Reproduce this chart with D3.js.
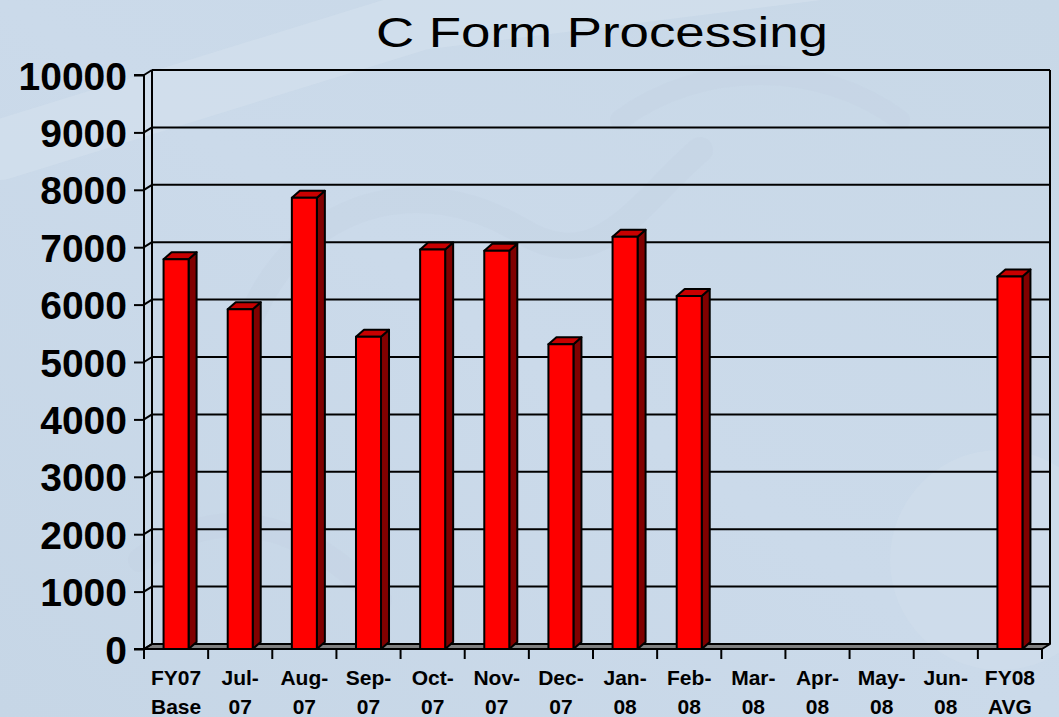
<!DOCTYPE html>
<html><head><meta charset="utf-8">
<script src="https://cdn.jsdelivr.net/npm/d3@7"></script>
<style>html,body{margin:0;padding:0;background:#cad9e8;}svg{display:block;}</style>
</head><body>
<svg id="c" width="1059" height="717"></svg>
<script>
const categories = [["FY07","Base"],["Jul-","07"],["Aug-","07"],["Sep-","07"],["Oct-","07"],["Nov-","07"],["Dec-","07"],["Jan-","08"],["Feb-","08"],["Mar-","08"],["Apr-","08"],["May-","08"],["Jun-","08"],["FY08","AVG"]];
const values = [6790, 5920, 7860, 5440, 6960, 6940, 5310, 7180, 6150, null, null, null, null, 6490];
const yTicks = [0,1000,2000,3000,4000,5000,6000,7000,8000,9000,10000];
const title = "C Form Processing";

const svg = d3.select("#c");
const W = 1059, H = 717;
const font = "'Liberation Sans', Arial, sans-serif";

// background
const defs = svg.append("defs");
const g0 = defs.append("linearGradient").attr("id","bg").attr("x1","0").attr("y1","1").attr("x2","1").attr("y2","0");
g0.append("stop").attr("offset","0").attr("stop-color","#c6d6e6");
g0.append("stop").attr("offset","0.5").attr("stop-color","#cbdaea");
g0.append("stop").attr("offset","1").attr("stop-color","#c8d8e7");
svg.append("rect").attr("width",W).attr("height",H).attr("fill","url(#bg)");
// faint watermark shapes
const wm = svg.append("g").attr("fill","none").attr("stroke-linecap","round");
wm.append("path").attr("d","M0,150 L420,20 L1059,-60").attr("stroke","#d3e0ed").attr("stroke-width",60).attr("opacity",0.7);
wm.append("path").attr("d","M250,320 C300,200 420,170 520,230 C600,280 640,200 700,150").attr("stroke","#c2d2e2").attr("stroke-width",26).attr("opacity",0.35);
wm.append("path").attr("d","M620,120 C700,60 820,60 900,120").attr("stroke","#c2d2e2").attr("stroke-width",20).attr("opacity",0.35);
wm.append("circle").attr("cx",1000).attr("cy",560).attr("r",110).attr("fill","#d0deeb").attr("stroke","none").attr("opacity",0.6);
wm.append("path").attr("d","M140,560 C220,500 300,520 380,600").attr("stroke","#c2d2e2").attr("stroke-width",24).attr("opacity",0.35);

// geometry
const x0 = 144, x1 = 1042, yBase = 649, yTop = 75;
const dx = 8, dy = -5; // wall depth
const bdx = 8, bdy = -7; // bar depth

const x = d3.scaleBand().domain(d3.range(categories.length)).range([x0, x1]).padding(0);
const y = d3.scaleLinear().domain([0, 10000]).range([yBase, yTop]);
const barFrac = 0.39;

// floor
svg.append("path")
  .attr("d", `M${x0},${yBase} L${x0+dx},${yBase+dy} L${x1+dx},${yBase+dy} L${x1},${yBase} Z`)
  .attr("fill","#808080").attr("stroke","#000").attr("stroke-width",2).attr("stroke-linejoin","round");

// gridlines on back wall + diagonal on side wall
const grid = svg.append("g").attr("stroke","#000").attr("stroke-width",2).attr("fill","none");
yTicks.forEach(t => {
  const yy = y(t);
  grid.append("line").attr("x1",x0+dx).attr("x2",x1+dx).attr("y1",yy+dy).attr("y2",yy+dy);
  grid.append("line").attr("x1",x0).attr("y1",yy).attr("x2",x0+dx).attr("y2",yy+dy);
});
// walls
grid.append("line").attr("x1",x0+dx).attr("x2",x0+dx).attr("y1",y(10000)+dy).attr("y2",yBase+dy);
grid.append("line").attr("x1",x1+dx).attr("x2",x1+dx).attr("y1",y(10000)+dy).attr("y2",yBase+dy);

// bars
const bars = svg.append("g").attr("stroke","#000").attr("stroke-width",2).attr("stroke-linejoin","round");
values.forEach((v, i) => {
  if (v == null) return;
  const bw = x.bandwidth() * barFrac;
  const bx = x(i) + (x.bandwidth() - bw) / 2;
  const top = y(v), bot = yBase;
  bars.append("path").attr("fill","#800000")
    .attr("d", `M${bx+bw},${bot} L${bx+bw},${top} L${bx+bw+bdx},${top+bdy} L${bx+bw+bdx},${bot+bdy} Z`);
  bars.append("path").attr("fill","#c80000")
    .attr("d", `M${bx},${top} L${bx+bdx},${top+bdy} L${bx+bw+bdx},${top+bdy} L${bx+bw},${top} Z`);
  bars.append("rect").attr("x",bx).attr("y",top).attr("width",bw).attr("height",bot-top).attr("fill","#ff0000");
});

// y axis (front)
const yAxis = d3.axisLeft(y).tickValues(yTicks).tickSize(10).tickPadding(7).tickFormat(d3.format("d"));
const ya = svg.append("g").attr("transform",`translate(${x0},0)`).call(yAxis);
ya.select(".domain").attr("stroke","#000").attr("stroke-width",2).attr("d",`M-10,${yTop}H0V${yBase}H-10`);
ya.selectAll(".tick line").attr("stroke","#000").attr("stroke-width",2);
ya.selectAll(".tick text").attr("fill","#000").attr("font-family",font).attr("font-weight","bold").attr("font-size","39px").attr("dy","0.36em");

// x axis
const xa = svg.append("g");
xa.append("line").attr("x1",x0).attr("x2",x1).attr("y1",yBase).attr("y2",yBase).attr("stroke","#000").attr("stroke-width",2);
d3.range(categories.length + 1).forEach(i => {
  const xx = i < categories.length ? x(i) : x1;
  xa.append("line").attr("x1",xx).attr("x2",xx).attr("y1",yBase).attr("y2",yBase+10).attr("stroke","#000").attr("stroke-width",2);
});
categories.forEach((c, i) => {
  const t = xa.append("text").attr("x", x(i) + x.bandwidth()/2).attr("text-anchor","middle")
    .attr("font-family",font).attr("font-weight","bold").attr("font-size","21px").attr("fill","#000");
  t.append("tspan").attr("x", x(i) + x.bandwidth()/2).attr("y", 685).text(c[0]);
  t.append("tspan").attr("x", x(i) + x.bandwidth()/2).attr("y", 714).text(c[1]);
});

// title
svg.append("text").attr("x",602).attr("y",47).attr("text-anchor","middle")
  .attr("font-family",font).attr("font-size","43px").attr("fill","#000")
  .attr("textLength",452).attr("lengthAdjust","spacingAndGlyphs").text(title);
</script>
</body></html>
